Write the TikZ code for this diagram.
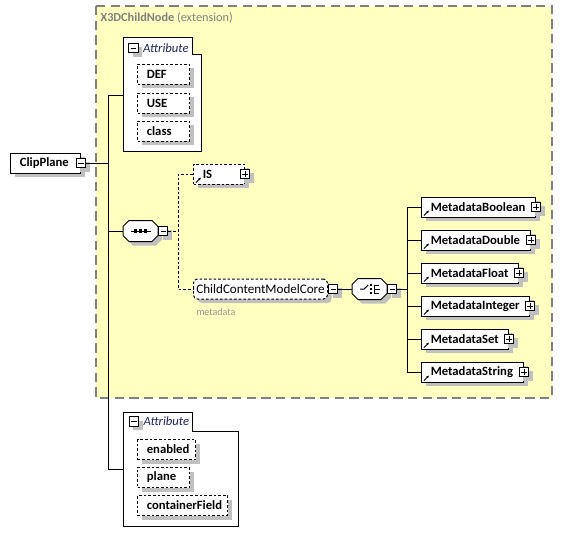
\documentclass[tikz,border=0pt]{standalone}
\usepackage{fontspec}
\setmainfont{Carlito}
\usetikzlibrary{positioning,shadows,arrows.meta}
\definecolor{xsdyellow}{RGB}{255,255,192}
\definecolor{xsdgray}{RGB}{128,128,128}
\definecolor{xsdnavy}{RGB}{30,40,90}
\definecolor{xsdshadow}{RGB}{192,192,192}
\tikzset{
  boxshadow/.style={drop shadow={shadow xshift=3pt, shadow yshift=-3pt, fill=xsdshadow, opacity=1}},
  elem/.style={draw, fill=white, boxshadow, anchor=west, text width=#1, align=flush left,
    inner xsep=7pt, inner ysep=0pt, minimum height=15pt, font=\fontsize{9.5}{11}\selectfont\bfseries},
  attr/.style={elem=#1, dash pattern=on 2pt off 1.5pt},
  pmbox/.style={draw, fill=white, boxshadow, minimum size=7pt, inner sep=0pt},
  minusbox/.style={pmbox, path picture={
    \draw ([xshift=1.5pt]path picture bounding box.west) -- ([xshift=-1.5pt]path picture bounding box.east);}},
  plusbox/.style={pmbox, path picture={
    \draw ([xshift=1.5pt]path picture bounding box.west) -- ([xshift=-1.5pt]path picture bounding box.east);
    \draw ([yshift=1.5pt]path picture bounding box.south) -- ([yshift=-1.5pt]path picture bounding box.north);}},
  compositor/.style={minimum width=25.5pt, minimum height=15pt, inner sep=0pt, anchor=west},
  grouplbl/.style={font=\fontsize{9.5}{11}\selectfont\itshape, text=xsdnavy, inner sep=0pt},
  reflink/.style={-{Latex[length=2pt,width=2pt]}, line width=0.6pt},
}
\begin{document}
\begin{tikzpicture}[x=0.75pt, y=-0.75pt, line width=0.75pt]
\useasboundingbox (0,0) rectangle (563,544);
% extension area
\draw[xsdgray, line width=1pt, dash pattern=on 7pt off 4pt, fill=xsdyellow] (96,6) rectangle (552,398);
\node[anchor=west, inner sep=0pt, text=xsdgray, font=\fontsize{9.2}{11}\selectfont] (ext) at (100,18)
  {\textbf{X3DChildNode} (extension)};

% root element
\node[elem=38.5pt] (clip) at (10,163) {ClipPlane};
\node[minusbox] (clipm) at (clip.east) {};

% first attribute group
\draw[fill=white] (123,37) -| (192,54) -| (201,151) -| cycle;
\node[minusbox] (attrAm) at (133.5,48) {};
\node[grouplbl, right=3pt of attrAm] {Attribute};
\coordinate (attrA) at (123,95);
\node[attr=25pt] (def) at (137,74) {DEF};
\node[attr=25pt] (use) at (137,103) {USE};
\node[attr=25pt] (class) at (137,131) {class};

% second attribute group
\draw[fill=white] (123,412) -| (192,431) -| (238,526) -| cycle;
\node[minusbox] (attrBm) at (134,421.5) {};
\node[grouplbl, right=3pt of attrBm] {Attribute};
\coordinate (attrB) at (123,469);
\node[attr=29.5pt] (enabled) at (137,449.5) {enabled};
\node[attr=25pt] (plane) at (137,477.5) {plane};
\node[attr=53.5pt] (field) at (137,505.5) {containerField};

% trunk
\draw (attrA) -- ++(-15,0) coordinate (bus) |- (attrB);
\draw (clipm.east) -- (clipm.east -| bus);

% compositors (sequence, choice)
\node[compositor] (seq) at (123,231) {};
\node[compositor] (choice) at (352,289) {};
\foreach \c in {seq,choice}{
  \draw[fill=white, boxshadow] ([xshift=4.5pt]\c.north west) -- ([xshift=-4.5pt]\c.north east)
    -- ([yshift=-4.5pt]\c.north east) -- ([yshift=4.5pt]\c.south east)
    -- ([xshift=-4.5pt]\c.south east) -- ([xshift=4.5pt]\c.south west)
    -- ([yshift=4.5pt]\c.south west) -- ([yshift=-4.5pt]\c.north west) -- cycle;
  \node[minusbox, anchor=west] (\c m) at (\c.east) {};
}
\draw ([xshift=-7.5pt]seq.center) -- ([xshift=7.5pt]seq.center);
\foreach \dx in {-3.5,0,3.5}
  \fill ([xshift=\dx pt]seq.center) ++(-1.2pt,-1.2pt) rectangle ++(2.4pt,2.4pt);
\draw (seq.west) -- (seq.west -| bus);
\draw ([xshift=-7pt]choice.center) -- ++(3pt,0) -- ++(3pt,3pt);
\foreach \dy in {-3,0,3}
  \fill ([shift={(1pt,\dy pt)}]choice.center) ++(-1pt,-1pt) rectangle ++(2pt,2pt);
\draw ([shift={(7pt,3pt)}]choice.center) -| ([shift={(4pt,-3pt)}]choice.center) -- ++(3pt,0);
\draw ([xshift=4pt]choice.center) -- ++(4pt,0);

% IS and content model
\node[elem=24.25pt, dash pattern=on 2pt off 1.5pt] (is) at (193,174) {IS};
\node[plusbox] (isp) at (is.east) {};
\draw[reflink] ([shift={(3,-2)}]is.south west) -- ++(5,-5);
\node[draw, dash pattern=on 2pt off 1.5pt, rounded corners=3pt, fill=white, boxshadow, anchor=west,
  minimum width=100.5pt, minimum height=15pt, inner sep=0pt, font=\fontsize{9.8}{11}\selectfont]
  (core) at (193,289) {ChildContentModelCore};
\node[minusbox, anchor=west] (corem) at (core.east) {};
\node[anchor=west, inner sep=0pt, text=xsdgray!85, font=\fontsize{7.5}{9}\selectfont] (coremeta) at (196,312) {metadata};
\draw[dash pattern=on 2pt off 1.5pt] (seqm.east) -- ++(11,0);
\draw[dash pattern=on 2pt off 1.5pt] (is.west) -- ++(-15,0) |- (core.west);
\draw (corem.east) -- (choice.west);
\draw (choicem.east) -- ++(10,0);

% metadata children
\foreach \kind/\tw [count=\i from 0] in {Boolean/71.5pt,Double/67.75pt,Float/58.75pt,Integer/67pt,Set/51.25pt,String/62.5pt}{
  \node[elem=\tw] (md\kind) at (421,207+33*\i) {Metadata\kind};
  \node[plusbox] at (md\kind.east) {};
  \draw[reflink] ([shift={(3,-2)}]md\kind.south west) -- ++(5,-5);
  \draw (md\kind.west) -- ++(-14,0);
}
\draw (mdBoolean.west) -- ++(-14,0) |- (mdString.west);
\end{tikzpicture}
\end{document}
